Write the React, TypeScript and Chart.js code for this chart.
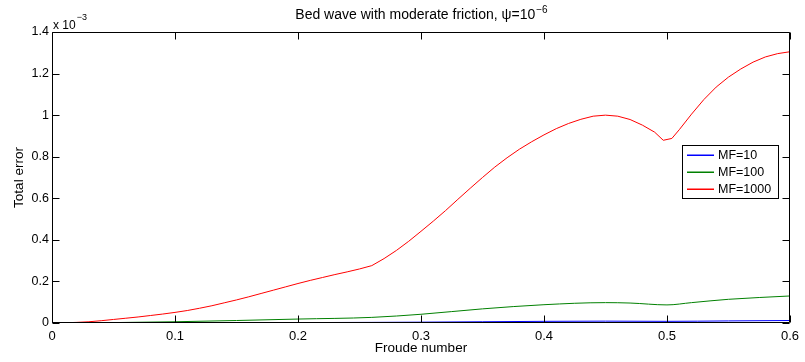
import React, { useEffect, useRef } from 'react';
import { Chart, registerables } from 'chart.js';

Chart.register(...registerables);

const FONT = '"Liberation Sans", Arial, Helvetica, sans-serif';

const TITLE_TEXT = 'Bed wave with moderate friction, ψ=10';
const TITLE_EXP = '−6';
const X_LABEL = 'Froude number';
const Y_LABEL = 'Total error';
const Y_MULT_BASE = 'x 10';
const Y_MULT_EXP = '−3';

const X_TICKS = [0, 0.1, 0.2, 0.3, 0.4, 0.5, 0.6];
const Y_TICKS = [0, 0.2, 0.4, 0.6, 0.8, 1, 1.2, 1.4];

const SERIES_LABELS = ['MF=10', 'MF=100', 'MF=1000'];
const SERIES_COLORS = ['#0000ff', '#008000', '#ff0000'];

// values in units of 1e-3
const mf10X = [0, 0.05, 0.1, 0.15, 0.2, 0.26, 0.3, 0.35, 0.4, 0.45, 0.5, 0.55, 0.6];
const mf10Y = [0, 0.0002, 0.0006, 0.0012, 0.002, 0.003, 0.004, 0.006, 0.008, 0.009, 0.008, 0.01, 0.012];

const mf100X = [0, 0.05, 0.1, 0.15, 0.2, 0.26, 0.3, 0.35, 0.4, 0.45, 0.47, 0.5, 0.52, 0.55, 0.6];
const mf100Y = [0, 0.002, 0.006, 0.012, 0.019, 0.027, 0.042, 0.068, 0.088, 0.098, 0.096, 0.087, 0.098, 0.114, 0.13];

const mf1000X = [
  0, 0.01, 0.02, 0.03, 0.04, 0.05, 0.06, 0.07, 0.08, 0.09,
  0.1, 0.11, 0.12, 0.13, 0.14, 0.15, 0.16, 0.17, 0.18, 0.19,
  0.2, 0.21, 0.22, 0.23, 0.24, 0.25, 0.26, 0.27, 0.28, 0.29,
  0.3, 0.31, 0.32, 0.33, 0.34, 0.35, 0.36, 0.37, 0.38, 0.39,
  0.4, 0.41, 0.42, 0.43, 0.44, 0.45, 0.46, 0.47, 0.48, 0.49,
  0.497, 0.504, 0.51, 0.52, 0.53, 0.54, 0.55, 0.56, 0.57, 0.58, 0.59, 0.6,
];
const mf1000Y = [
  0, 0.001, 0.003, 0.006, 0.011, 0.017, 0.023, 0.029, 0.036, 0.043,
  0.051, 0.06, 0.071, 0.083, 0.097, 0.111, 0.126, 0.142, 0.158, 0.174,
  0.19, 0.205, 0.219, 0.233, 0.246, 0.26, 0.276, 0.31, 0.349, 0.393,
  0.441, 0.49, 0.541, 0.595, 0.648, 0.7, 0.75, 0.795, 0.836, 0.872,
  0.905, 0.935, 0.96, 0.98, 0.995, 1.0, 0.995, 0.979, 0.952, 0.918,
  0.879, 0.888, 0.93, 1.005, 1.075, 1.135, 1.183, 1.222, 1.255, 1.28, 1.296, 1.305,
];

const toPoints = (xs: number[], ys: number[]) => xs.map((x, i) => ({ x, y: ys[i] }));

const overlayPlugin = {
  id: 'overlay',
  afterDatasetsDraw(chart: any) {
    const { ctx, chartArea: a, scales } = chart;
    const L = Math.round(a.left) + 0.5;
    const R = Math.round(a.right) - 0.5;
    const T = Math.round(a.top) + 0.5;
    const B = Math.round(a.bottom) - 0.5;
    ctx.save();
    ctx.strokeStyle = '#000';
    ctx.lineWidth = 1;
    ctx.beginPath();
    ctx.rect(L, T, R - L, B - T);
    ctx.stroke();
    const TL = 7;
    ctx.beginPath();
    X_TICKS.forEach((v) => {
      const px = Math.round(scales.x.getPixelForValue(v)) + 0.5;
      ctx.moveTo(px, B);
      ctx.lineTo(px, B - TL);
      ctx.moveTo(px, T);
      ctx.lineTo(px, T + TL);
    });
    Y_TICKS.forEach((v) => {
      const py = Math.round(scales.y.getPixelForValue(v)) + 0.5;
      ctx.moveTo(L, py);
      ctx.lineTo(L + TL, py);
      ctx.moveTo(R, py);
      ctx.lineTo(R - TL, py);
    });
    ctx.stroke();

    // title with superscript
    ctx.fillStyle = '#000';
    ctx.textBaseline = 'alphabetic';
    ctx.textAlign = 'left';
    const tFont = `14px ${FONT}`;
    const sFont = `10px ${FONT}`;
    ctx.font = tFont;
    const w1 = ctx.measureText(TITLE_TEXT).width;
    ctx.font = sFont;
    const w2 = ctx.measureText(TITLE_EXP).width;
    const cx = (a.left + a.right) / 2;
    const tx = cx - (w1 + w2) / 2;
    ctx.font = tFont;
    ctx.fillText(TITLE_TEXT, tx, 19);
    ctx.font = sFont;
    ctx.fillText(TITLE_EXP, tx + w1 + 1, 13);

    // y multiplier
    ctx.font = `12px ${FONT}`;
    ctx.fillText(Y_MULT_BASE, a.left + 1, 29);
    const wm = ctx.measureText(Y_MULT_BASE).width;
    ctx.font = `9px ${FONT}`;
    ctx.fillText(Y_MULT_EXP, a.left + 1 + wm + 1, 20);

    // legend
    const lx = 682.5, ly = 145.5, lw = 96, lh = 53;
    ctx.fillStyle = '#fff';
    ctx.fillRect(lx, ly, lw, lh);
    ctx.strokeStyle = '#000';
    ctx.lineWidth = 1;
    ctx.strokeRect(lx, ly, lw, lh);
    ctx.font = `12.5px ${FONT}`;
    ctx.textBaseline = 'middle';
    SERIES_LABELS.forEach((label, i) => {
      const y = 155 + i * 17;
      ctx.fillStyle = SERIES_COLORS[i];
      ctx.fillRect(687, y - 0.5, 27, 1.5);
      ctx.fillStyle = '#000';
      ctx.fillText(label, 718, y + 1);
    });
    ctx.restore();
  },
};

export default function App() {
  const canvasRef = useRef<HTMLCanvasElement | null>(null);

  useEffect(() => {
    if (!canvasRef.current) return;
    const seriesX = [mf10X, mf100X, mf1000X];
    const seriesY = [mf10Y, mf100Y, mf1000Y];
    const chart = new Chart(canvasRef.current, {
      type: 'line',
      data: {
        datasets: SERIES_LABELS.map((label, i) => ({
          label,
          data: toPoints(seriesX[i], seriesY[i]),
          borderColor: SERIES_COLORS[i],
          backgroundColor: SERIES_COLORS[i],
          borderWidth: 1,
          pointRadius: 0,
          tension: 0,
          cubicInterpolationMode: (i === 2 ? 'default' : 'monotone') as any,
          fill: false,
        })),
      },
      options: {
        animation: false,
        responsive: false,
        maintainAspectRatio: false,
        devicePixelRatio: 1,
        layout: { padding: { left: 0, top: 32, right: 10, bottom: 0 } },
        plugins: {
          legend: { display: false },
          title: { display: false },
          tooltip: { enabled: false },
        },
        scales: {
          x: {
            type: 'linear',
            min: 0,
            max: 0.6,
            afterFit: (s: any) => { s.height = 39; },
            afterBuildTicks: (s: any) => { s.ticks = X_TICKS.map((v) => ({ value: v })); },
            grid: { display: false, drawTicks: false },
            border: { display: false },
            ticks: {
              color: '#000',
              font: { family: FONT, size: 13 },
              padding: 6,
              maxRotation: 0,
              callback: (v: any) => String(+Number(v).toFixed(2)),
            },
            title: {
              display: true,
              text: X_LABEL,
              color: '#000',
              font: { family: FONT, size: 13.5 },
              padding: { top: 0, bottom: 6 },
            },
          },
          y: {
            type: 'linear',
            min: 0,
            max: 1.4,
            afterFit: (s: any) => { s.width = 52; },
            afterBuildTicks: (s: any) => { s.ticks = Y_TICKS.map((v) => ({ value: v })); },
            grid: { display: false, drawTicks: false },
            border: { display: false },
            ticks: {
              color: '#000',
              font: { family: FONT, size: 12.5 },
              padding: 3,
              callback: (v: any) => String(+Number(v).toFixed(2)),
            },
            title: {
              display: true,
              text: Y_LABEL,
              color: '#000',
              font: { family: FONT, size: 13.5 },
              padding: { top: 11, bottom: 0 },
            },
          },
        },
      },
      plugins: [overlayPlugin],
    });
    return () => chart.destroy();
  }, []);

  return (
    <div style={{ position: 'fixed', left: 0, top: 0, width: 805, height: 362, background: '#fff' }}>
      <canvas ref={canvasRef} width={805} height={362} style={{ display: 'block', width: 805, height: 362 }} />
    </div>
  );
}
